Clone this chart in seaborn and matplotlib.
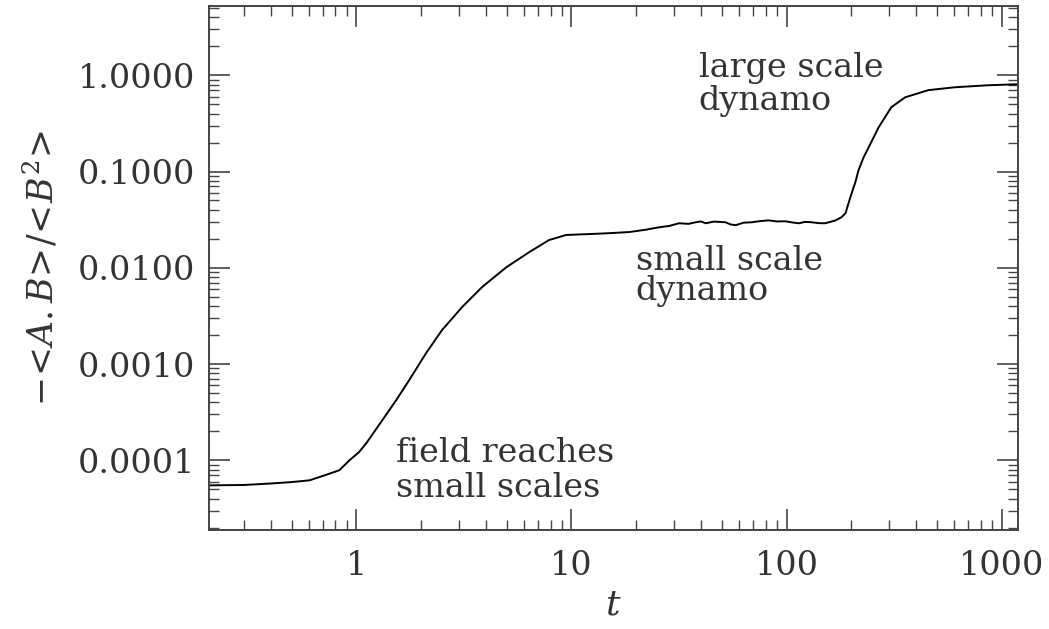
import numpy as np
import pandas as pd
import matplotlib
matplotlib.use("Agg")
import matplotlib.pyplot as plt
import seaborn as sns
from matplotlib.ticker import LogLocator, FixedLocator, FixedFormatter, NullFormatter

# ---- data ----
t_vals = [0.206, 0.30, 0.40, 0.50, 0.605, 0.70, 0.834, 0.928, 1.03, 1.113, 1.32, 1.53,
          1.76, 2.11, 2.50, 3.10, 3.84, 4.97, 6.35, 7.86, 9.43, 10.8, 12.1, 14.5,
          18.5, 22.0, 25.4, 28.5, 31.6, 35.0, 37.8, 40.0, 42.1, 46.0, 52.0, 55.0,
          58.0, 63.0, 68.8, 75.0, 82.5, 90.0, 98.8, 106.0, 114.0, 122.0, 131.0,
          141.0, 151.0, 160.0, 169.0, 180.0, 188.0, 193.0, 200.0, 209.0, 216.0,
          228.0, 241.0, 268.0, 307.0, 356.0, 456.0, 606.0, 868.0, 1185.0]
ratio_vals = [5.5e-5, 5.55e-5, 5.75e-5, 5.95e-5, 6.2e-5, 6.9e-5, 7.9e-5, 1.0e-4, 1.22e-4,
              1.51e-4, 2.61e-4, 4.2e-4, 6.8e-4, 1.30e-3, 2.25e-3, 3.9e-3, 6.3e-3,
              0.0101, 0.0145, 0.0194, 0.0219, 0.0222, 0.0224, 0.0228, 0.0235, 0.0248,
              0.0263, 0.0272, 0.0290, 0.0286, 0.0297, 0.0303, 0.0290, 0.0302, 0.0297,
              0.0282, 0.0277, 0.0294, 0.0297, 0.0305, 0.0311, 0.0303, 0.0304, 0.0296,
              0.0290, 0.0300, 0.0297, 0.0291, 0.0290, 0.0300, 0.0311, 0.0335, 0.0369,
              0.0450, 0.0580, 0.0780, 0.103, 0.140, 0.179, 0.288, 0.466, 0.59, 0.70,
              0.75, 0.787, 0.806]
y_ticks = [1e-4, 1e-3, 1e-2, 1e-1, 1.0]
y_tick_labels = ["0.0001", "0.0010", "0.0100", "0.1000", "1.0000"]
x_ticks = [1, 10, 100, 1000]
x_tick_labels = ["1", "10", "100", "1000"]

df = pd.DataFrame({"t": t_vals, "ratio": ratio_vals})

sns.set_style("ticks")
plt.rcParams["font.family"] = ["DejaVu Serif"]
plt.rcParams["mathtext.fontset"] = "dejavuserif"

text_color = "#333333"
fig = plt.figure(figsize=(10.49, 6.29), dpi=100)
ax = fig.add_axes([0.199, 0.157, 0.771, 0.833])

sns.lineplot(data=df, x="t", y="ratio", ax=ax, color="black", linewidth=1.4,
             estimator=None, sort=True)

ax.set_xscale("log")
ax.set_yscale("log")
ax.set_xlim(0.206, 1185)
ax.set_ylim(1.88e-5, 5.2)

ax.xaxis.set_major_locator(FixedLocator(x_ticks))
ax.xaxis.set_major_formatter(FixedFormatter(x_tick_labels))
ax.xaxis.set_minor_locator(LogLocator(base=10, subs=np.arange(2, 10), numticks=20))
ax.xaxis.set_minor_formatter(NullFormatter())
ax.yaxis.set_major_locator(FixedLocator(y_ticks))
ax.yaxis.set_major_formatter(FixedFormatter(y_tick_labels))
ax.yaxis.set_minor_locator(LogLocator(base=10, subs=np.arange(2, 10), numticks=20))
ax.yaxis.set_minor_formatter(NullFormatter())

ax.tick_params(which="both", direction="in", top=True, right=True, colors="#444444",
               labelcolor=text_color, labelsize=24)
ax.tick_params(which="major", length=15, width=1.2, pad=10)
ax.tick_params(which="minor", length=7, width=1.0)
ax.tick_params(axis="x", which="major", pad=14)
for s in ax.spines.values():
    s.set_linewidth(1.4)
    s.set_color("#444444")

ax.set_xlabel(r"$t$", fontsize=26, color=text_color, labelpad=4)
ax.set_ylabel(r"$-\!<\!A{.}B\!>\!/\!<\!B^2\!>$", fontsize=25, color=text_color, labelpad=12)

fs = 24
ax.text(1.53, 9.6e-5, "field reaches", fontsize=fs, color=text_color, ha="left", va="baseline")
ax.text(1.53, 4.15e-5, "small scales", fontsize=fs, color=text_color, ha="left", va="baseline")
ax.text(19.9, 0.00944, "small scale", fontsize=fs, color=text_color, ha="left", va="baseline")
ax.text(19.9, 0.0046, "dynamo", fontsize=fs, color=text_color, ha="left", va="baseline")
ax.text(39.0, 0.95, "large scale", fontsize=fs, color=text_color, ha="left", va="baseline")
ax.text(39.0, 0.433, "dynamo", fontsize=fs, color=text_color, ha="left", va="baseline")

fig.savefig("out.png", dpi=100)
